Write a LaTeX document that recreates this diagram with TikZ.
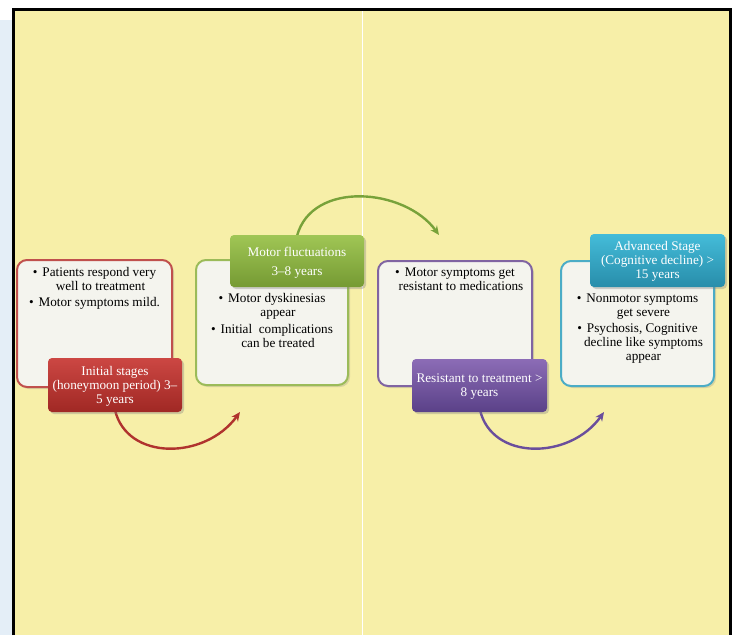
\documentclass[tikz,border=0pt]{standalone}
\usepackage{fontspec}
\setmainfont{Liberation Serif}
\usetikzlibrary{shadows,arrows.meta}
\definecolor{bgyellow}{HTML}{F7EFA8}
\definecolor{bodyfill}{HTML}{F4F4EE}
\definecolor{redborder}{HTML}{C0504D}
\definecolor{redtop}{HTML}{CC4743}
\definecolor{redbot}{HTML}{A02824}
\definecolor{redarc}{HTML}{B0332E}
\definecolor{greenborder}{HTML}{9BBB59}
\definecolor{greentop}{HTML}{A0C655}
\definecolor{greenbot}{HTML}{759A33}
\definecolor{greenarc}{HTML}{78A23A}
\definecolor{purpleborder}{HTML}{8064A2}
\definecolor{purpletop}{HTML}{8C6CB6}
\definecolor{purplebot}{HTML}{5A4188}
\definecolor{purplearc}{HTML}{6A4E9C}
\definecolor{blueborder}{HTML}{4BACC6}
\definecolor{bluetop}{HTML}{44BCD9}
\definecolor{bluebot}{HTML}{288DAA}
\definecolor{leftstrip}{HTML}{E4EEF7}
\newcommand\dfont{\fontsize{13.2}{14}\selectfont}
\begin{document}
\begin{tikzpicture}[x=1pt,y=-1pt,
  bodybox/.style={draw, line width=2pt, rounded corners=10pt, fill=bodyfill,
    drop shadow={opacity=0.25,shadow xshift=2pt,shadow yshift=-2pt}},
  labbox/.style={rounded corners=4pt,
    drop shadow={opacity=0.35,shadow xshift=2pt,shadow yshift=-2pt}},
  labtext/.style={text=white, align=center, font=\dfont, inner sep=0pt},
  bodytext/.style={anchor=base, align=center, font=\dfont, text=black, inner sep=0pt},
  arcline/.style={line width=2.4pt, -{Stealth[length=9pt,width=8pt]}}
]
\useasboundingbox (0,0) rectangle (733,635);
% background
\fill[white] (0,0) rectangle (733,635);
\fill[leftstrip] (0,20) rectangle (12,635);
\fill[bgyellow] (14,10) rectangle (730,635);
\draw[line width=2.5pt, black] (13.5,635) -- (13.5,9.5) -- (730.5,9.5) -- (730.5,635);
\draw[white, line width=0.8pt] (362,11) -- (362,635);

% body boxes
\node[bodybox, draw=redborder, minimum width=155pt, minimum height=127pt] (b1) at (94.5,323.5) {};
\node[bodybox, draw=greenborder, minimum width=152pt, minimum height=125pt] (b2) at (272,322.5) {};
\node[bodybox, draw=purpleborder, minimum width=154pt, minimum height=125pt] (b3) at (455,323.5) {};
\node[bodybox, draw=blueborder, minimum width=153pt, minimum height=125pt] (b4) at (637.5,323.5) {};

% body texts (anchor base = baseline of last line)
\node[bodytext] (t1) at (94.5,306.5) {\textbullet\hspace{5pt}Patients respond very\\ \hspace*{12pt}well to treatment\\[2pt] \textbullet\hspace{5pt}Motor symptoms mild.};
\node[bodytext] (t2) at (272,347.3) {\textbullet\hspace{5pt}Motor dyskinesias\\ \hspace*{12pt}appear\\[3pt] \textbullet\hspace{5pt}Initial\ \ complications\\ \hspace*{12pt}can be treated};
\node[bodytext] (t3) at (455,290.7) {\textbullet\hspace{5pt}Motor symptoms get\\ \hspace*{12pt}resistant to medications};
\node[bodytext] (t4) at (637.5,360) {\textbullet\hspace{5pt}Nonmotor symptoms\\ \hspace*{12pt}get severe\\[2pt] \textbullet\hspace{5pt}Psychosis, Cognitive\\ \hspace*{12pt}decline like symptoms\\ \hspace*{12pt}appear};

% connector arcs
\coordinate (r0) at (115,410);
\coordinate (r1) at (240,412);
\coordinate (g0) at (297,236);
\coordinate (g1) at (439,235);
\coordinate (p0) at (480,410);
\coordinate (p1) at (604,412);
\draw[arcline, redarc] (r0) .. controls (127,461) and (205,460) .. (r1);
\draw[arcline, greenarc] (g0) .. controls (312,180) and (405,188) .. (g1);
\draw[arcline, purplearc] (p0) .. controls (492,461) and (570,460) .. (p1);

% label boxes
\node[labbox, top color=redtop, bottom color=redbot, minimum width=134pt, minimum height=54pt] (l1) at (115,385) {};
\node[labbox, top color=greentop, bottom color=greenbot, minimum width=134pt, minimum height=52pt] (l2) at (297,261) {};
\node[labbox, top color=purpletop, bottom color=purplebot, minimum width=135pt, minimum height=53pt] (l3) at (479.5,385.5) {};
\node[labbox, top color=bluetop, bottom color=bluebot, minimum width=135pt, minimum height=53pt] (l4) at (657.5,260.5) {};
\node[labtext, anchor=base] (lt1) at (115,403) {Initial stages\\(honeymoon period) 3–\\5 years};
\node[labtext, anchor=base] (lt2) at (297,275) {Motor fluctuations\\[5pt]3–8 years};
\node[labtext, anchor=base] (lt3) at (479.5,396) {Resistant to treatment >\\8 years};
\node[labtext, anchor=base] (lt4) at (657.5,278.3) {Advanced Stage\\(Cognitive decline) >\\15 years};
\end{tikzpicture}
\end{document}
